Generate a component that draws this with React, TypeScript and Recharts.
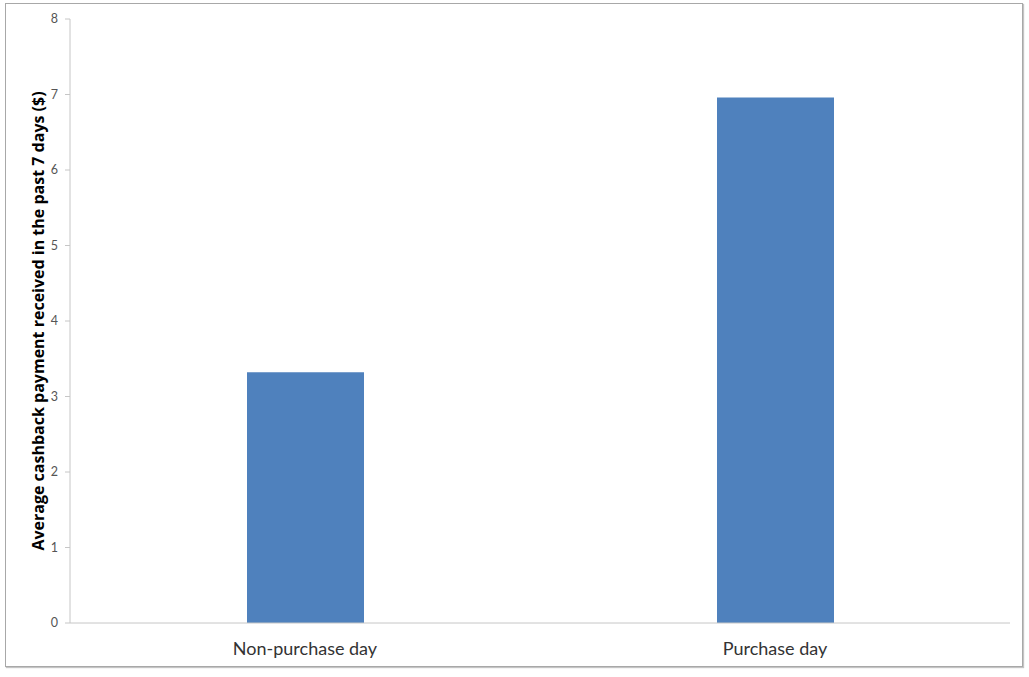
import React from "react";
import { BarChart, Bar, XAxis, YAxis } from "recharts";

// average cashback received in the past 7 days, by day type
const categories = ["Non-purchase day", "Purchase day"];
const cashback = [3.32, 6.96];
const yTicks = [0, 1, 2, 3, 4, 5, 6, 7, 8];

const data = categories.map((name, i) => ({ name, value: cashback[i] }));

const FONT = "Lato, 'Open Sans', sans-serif";
const AXIS_COLOR = "#c6c6c6";

export default function App() {
  return (
    <div style={{ position: "absolute", left: 0, top: 0, width: 1029, height: 677, background: "#fff" }}>
      {/* chart frame */}
      <div
        style={{
          position: "absolute",
          left: 5,
          top: 3,
          width: 1016,
          height: 662,
          border: "1px solid #a8a8a8",
          boxShadow: "1px 1px 1px #c4c4c4",
        }}
      />
      <div style={{ position: "absolute", left: 0, top: 0 }}>
        <BarChart
          width={1029}
          height={677}
          data={data}
          margin={{ top: 19, right: 19, bottom: 10, left: 30 }}
        >
          <XAxis
            dataKey="name"
            height={44}
            axisLine={{ stroke: AXIS_COLOR }}
            tickLine={false}
            tickSize={0}
            tickMargin={19}
            tick={{ fill: "#333", fontSize: 18, fontFamily: FONT }}
          />
          <YAxis
            width={40}
            domain={[0, 8]}
            ticks={yTicks}
            interval={0}
            axisLine={{ stroke: AXIS_COLOR }}
            tickLine={{ stroke: AXIS_COLOR }}
            tickSize={5}
            tickMargin={7}
            tick={{ fill: "#555", fontSize: 12.5, fontFamily: FONT }}
            label={{
              value: "Average cashback payment received in the past 7 days ($)",
              angle: -90,
              position: "insideLeft",
              offset: 8,
              style: {
                textAnchor: "middle",
                fontFamily: "'Open Sans', sans-serif",
                fontWeight: "bold",
                fontSize: 16,
                fill: "#000",
              },
            }}
          />
          <Bar dataKey="value" fill="#4F81BD" barSize={117} isAnimationActive={false} />
        </BarChart>
      </div>
    </div>
  );
}
